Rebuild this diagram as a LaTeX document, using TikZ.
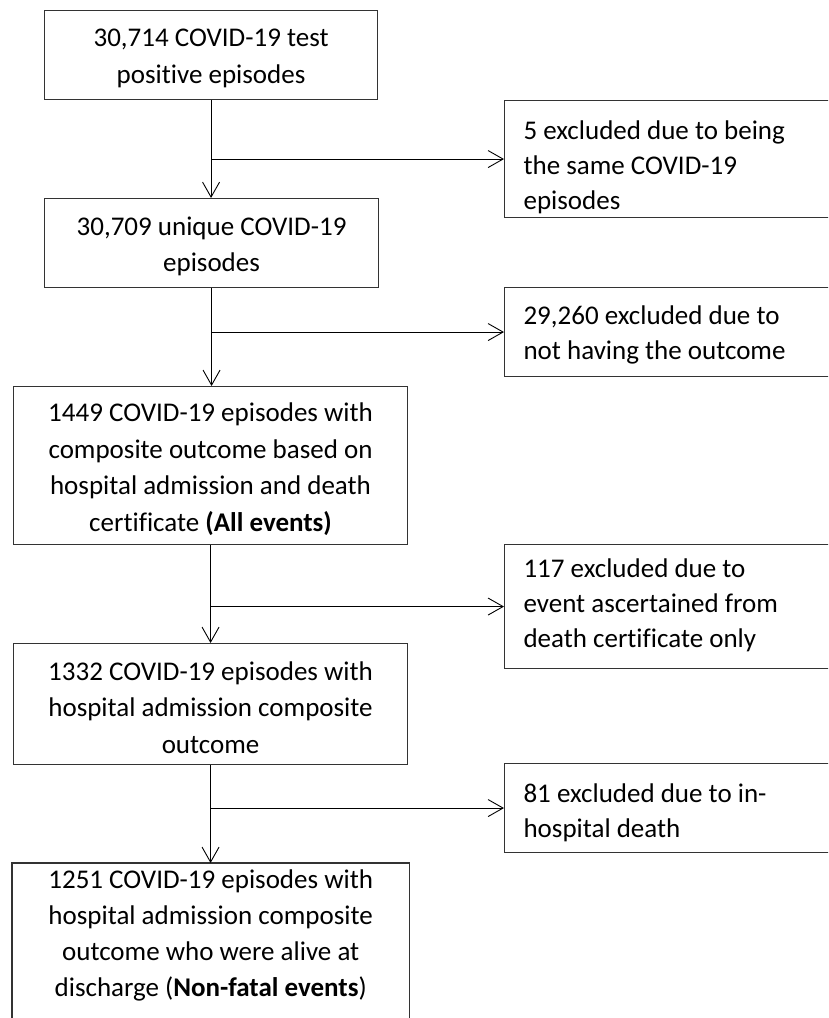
\documentclass[tikz,border=0pt]{standalone}
\usepackage{fontspec}
\setmainfont[Ligatures=NoCommon]{Carlito}
\usetikzlibrary{arrows.meta}
% centred text in a box of fixed size (height, width, text)
\newcommand{\lboxtext}[3]{\parbox[c][#1][c]{#2}{\fontsize{27pt}{36.5pt}\selectfont\centering\vspace*{7pt}#3\par}}
% centred text hanging from the top (height, width, gap, text)
\newcommand{\tboxtext}[4]{\parbox[c][#1][t]{#2}{\fontsize{27pt}{36pt}\selectfont\centering\vspace*{#3}#4\par}}
% left aligned text hanging from the top (height, width, gap, text)
\newcommand{\rboxtext}[4]{\parbox[c][#1][t]{#2}{\fontsize{27pt}{35pt}\selectfont\raggedright\leftskip=19pt\vspace*{#3}#4\par}}
\tikzset{
  flowbox/.style={draw=black!80, line width=1.1pt, inner sep=0pt, anchor=north west},
  openbox/.style={inner sep=0pt, anchor=north west},
  boxline/.style={draw=black!80, line width=1.1pt},
  arr/.style={draw=black, line width=0.9pt, -{Straight Barb[length=15pt,width=17pt]}}
}
\begin{document}
\begin{tikzpicture}[x=1pt,y=-1pt]
\useasboundingbox (0,0) rectangle (828,1018);
\clip (0,0) rectangle (828,1018);
\fill[white] (0,0) rectangle (828,1018);

\node[flowbox] (a) at (44,10) {\lboxtext{89pt}{333pt}{30,714 COVID-19 test\\positive episodes}};
\node[flowbox] (b) at (44,198) {\lboxtext{89pt}{334pt}{30,709 unique COVID-19\\episodes}};
\node[flowbox] (c) at (13,386) {\lboxtext{158pt}{394pt}{1449 COVID-19 episodes with\\composite outcome based on\\hospital admission and death\\certificate \textbf{(All events)}}};
\node[flowbox] (d) at (13,643) {\lboxtext{121pt}{394pt}{1332 COVID-19 episodes with\\hospital admission composite\\outcome}};
\node[openbox] (e) at (12,863) {\tboxtext{200pt}{397pt}{7pt}{1251 COVID-19 episodes with\\hospital admission composite\\outcome who were alive at\\discharge (\textbf{Non-fatal events})}};
\draw[boxline] (e.south west) -- (e.north west) -- (e.north east) -- (e.south east);

\node[flowbox] (r1) at (504,100) {\rboxtext{117pt}{340pt}{20pt}{5 excluded due to being\\the same COVID-19\\episodes}};
\node[flowbox] (r2) at (504,287) {\rboxtext{89pt}{340pt}{18pt}{29,260 excluded due to\\not having the outcome}};
\node[flowbox] (r3) at (504,544) {\rboxtext{124pt}{340pt}{14pt}{117 excluded due to\\event ascertained from\\death certificate only}};
\node[flowbox] (r4) at (504,763) {\rboxtext{89pt}{340pt}{20pt}{81 excluded due to in-\\hospital death}};

\draw[arr] (a.south) -- (a.south |- b.north);
\draw[arr] (a.south |- r1.west) -- (r1.west);
\draw[arr] (b.south) -- (b.south |- c.north);
\draw[arr] (b.south |- r2.west) -- (r2.west);
\draw[arr] (c.south) -- (c.south |- d.north);
\draw[arr] (c.south |- r3.west) -- (r3.west);
\draw[arr] (d.south) -- (d.south |- e.north);
\draw[arr] (d.south |- r4.west) -- (r4.west);
\end{tikzpicture}
\end{document}
